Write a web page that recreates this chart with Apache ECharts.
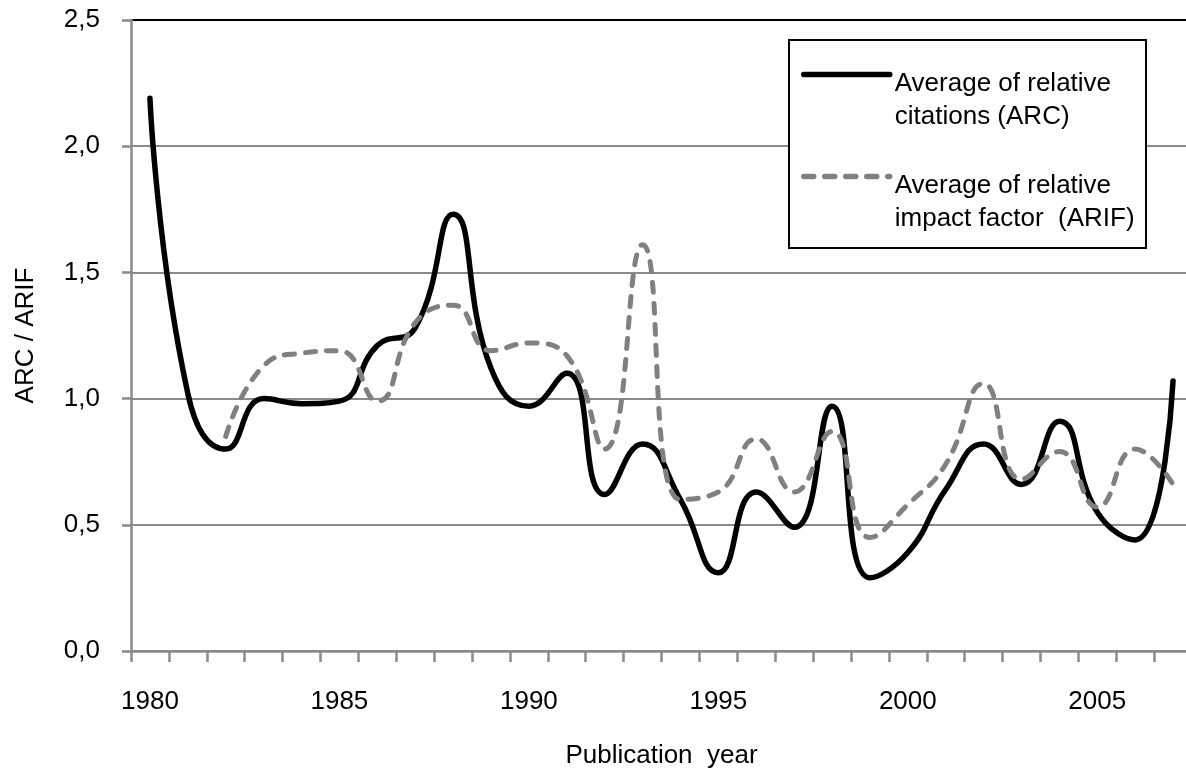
<!DOCTYPE html>
<html>
<head>
<meta charset="utf-8">
<script src="https://cdn.jsdelivr.net/npm/echarts@6/dist/echarts.min.js"></script>
<style>
  html, body { margin: 0; padding: 0; background: #fff; }
  #chart { width: 1186px; height: 770px; }
</style>
</head>
<body>
<div id="chart"></div>
<script>
// publication years on the category axis
const years = ['1980', '1981', '1982', '1983', '1984', '1985', '1986', '1987', '1988', '1989',
  '1990', '1991', '1992', '1993', '1994', '1995', '1996', '1997', '1998', '1999',
  '2000', '2001', '2002', '2003', '2004', '2005', '2006', '2007']

// Average of relative citations (ARC)
const arcValues = [2.19, 1.02, 0.80, 1.00, 0.98, 0.99, 1.21, 1.28, 1.73, 1.12,
  0.97, 1.10, 0.62, 0.82, 0.60, 0.31, 0.63, 0.49, 0.97, 0.29,
  0.39, 0.64, 0.82, 0.66, 0.91, 0.55, 0.44, 1.07]

// Average of relative impact factor (ARIF), no value for 1980-1981
const arifValues = [null, null, 0.85, 1.13, 1.18, 1.19, 0.99, 1.30, 1.37, 1.19,
  1.22, 1.17, 0.80, 1.61, 0.60, 0.63, 0.84, 0.63, 0.87, 0.45,
  0.58, 0.74, 1.06, 0.68, 0.79, 0.57, 0.80, 0.66]

const yTicks = [0, 0.5, 1, 1.5, 2, 2.5]

const legendText = {
  ARC: ['Average of relative', 'citations (ARC)'],
  ARIF: ['Average of relative', 'impact factor  (ARIF)']
}

const FONT = "'Liberation Sans', Arial, sans-serif"
const FONT_SIZE = 26
const GRID_GREY = '#8a8a8a'

const chart = echarts.init(document.getElementById('chart'))

chart.setOption({
  animation: false,
  backgroundColor: '#fff',
  textStyle: { fontFamily: FONT },
  // plot area runs a little past the right edge of the picture
  grid: { left: 131, width: 1061, top: 20, bottom: 119, containLabel: false, outerBoundsMode: 'none' },
  graphic: [{
    type: 'rect',
    z: 3,
    shape: { x: 789, y: 40, width: 357, height: 208 },
    style: { fill: '#fff', stroke: '#000', lineWidth: 2 }
  }],
  legend: {
    orient: 'vertical',
    left: 801,
    top: 41,
    padding: 0,
    itemGap: 13,
    itemWidth: 86,
    itemHeight: 14,
    z: 5,
    itemStyle: { opacity: 0 },
    lineStyle: { width: 5.5, cap: 'round' },
    // blank first line pushes the text under the legend line, like the original
    formatter: name => '{s| }\n{t|' + legendText[name].join('}\n{t|') + '}',
    textStyle: {
      fontFamily: FONT,
      fontSize: FONT_SIZE,
      color: '#000',
      rich: {
        s: { fontSize: 1, lineHeight: 52 },
        t: { fontFamily: FONT, fontSize: FONT_SIZE, lineHeight: 33, color: '#000' }
      }
    },
    data: ['ARC', 'ARIF']
  },
  xAxis: {
    type: 'category',
    data: years,
    boundaryGap: true,
    name: 'Publication  year',
    nameLocation: 'middle',
    nameGap: 92,
    nameTextStyle: { fontFamily: FONT, fontSize: FONT_SIZE, color: '#000' },
    axisLine: { lineStyle: { color: GRID_GREY, width: 2.5 } },
    axisTick: { show: true, interval: 0, length: 11, lineStyle: { color: GRID_GREY, width: 2.5 } },
    axisLabel: { interval: 4, margin: 38, fontFamily: FONT, fontSize: FONT_SIZE, color: '#000' },
    splitLine: { show: false }
  },
  yAxis: {
    type: 'value',
    min: yTicks[0],
    max: yTicks[yTicks.length - 1],
    interval: 0.5,
    name: 'ARC / ARIF',
    nameLocation: 'middle',
    nameGap: 92,
    nameTextStyle: { fontFamily: FONT, fontSize: FONT_SIZE, color: '#000' },
    axisLine: { show: true, lineStyle: { color: GRID_GREY, width: 2.5 } },
    axisTick: { show: true, length: 9, lineStyle: { color: GRID_GREY, width: 2.5 } },
    axisLabel: {
      margin: 31,
      fontFamily: FONT,
      fontSize: FONT_SIZE,
      color: '#000',
      formatter: v => v.toFixed(1).replace('.', ',')
    },
    splitLine: {
      show: true,
      lineStyle: { color: [GRID_GREY, GRID_GREY, GRID_GREY, GRID_GREY, GRID_GREY, '#000'], width: 2 }
    }
  },
  series: [
    {
      name: 'ARC',
      type: 'line',
      data: arcValues,
      smooth: 0.5,
      symbol: 'none',
      lineStyle: { color: '#000', width: 5.5, cap: 'round', join: 'round' },
      itemStyle: { color: '#000' }
    },
    {
      name: 'ARIF',
      type: 'line',
      data: arifValues,
      smooth: 0.5,
      symbol: 'none',
      connectNulls: false,
      lineStyle: { color: '#808080', width: 5, type: [10, 11], cap: 'round', join: 'round' },
      itemStyle: { color: '#808080' }
    }
  ]
})
</script>
</body>
</html>
